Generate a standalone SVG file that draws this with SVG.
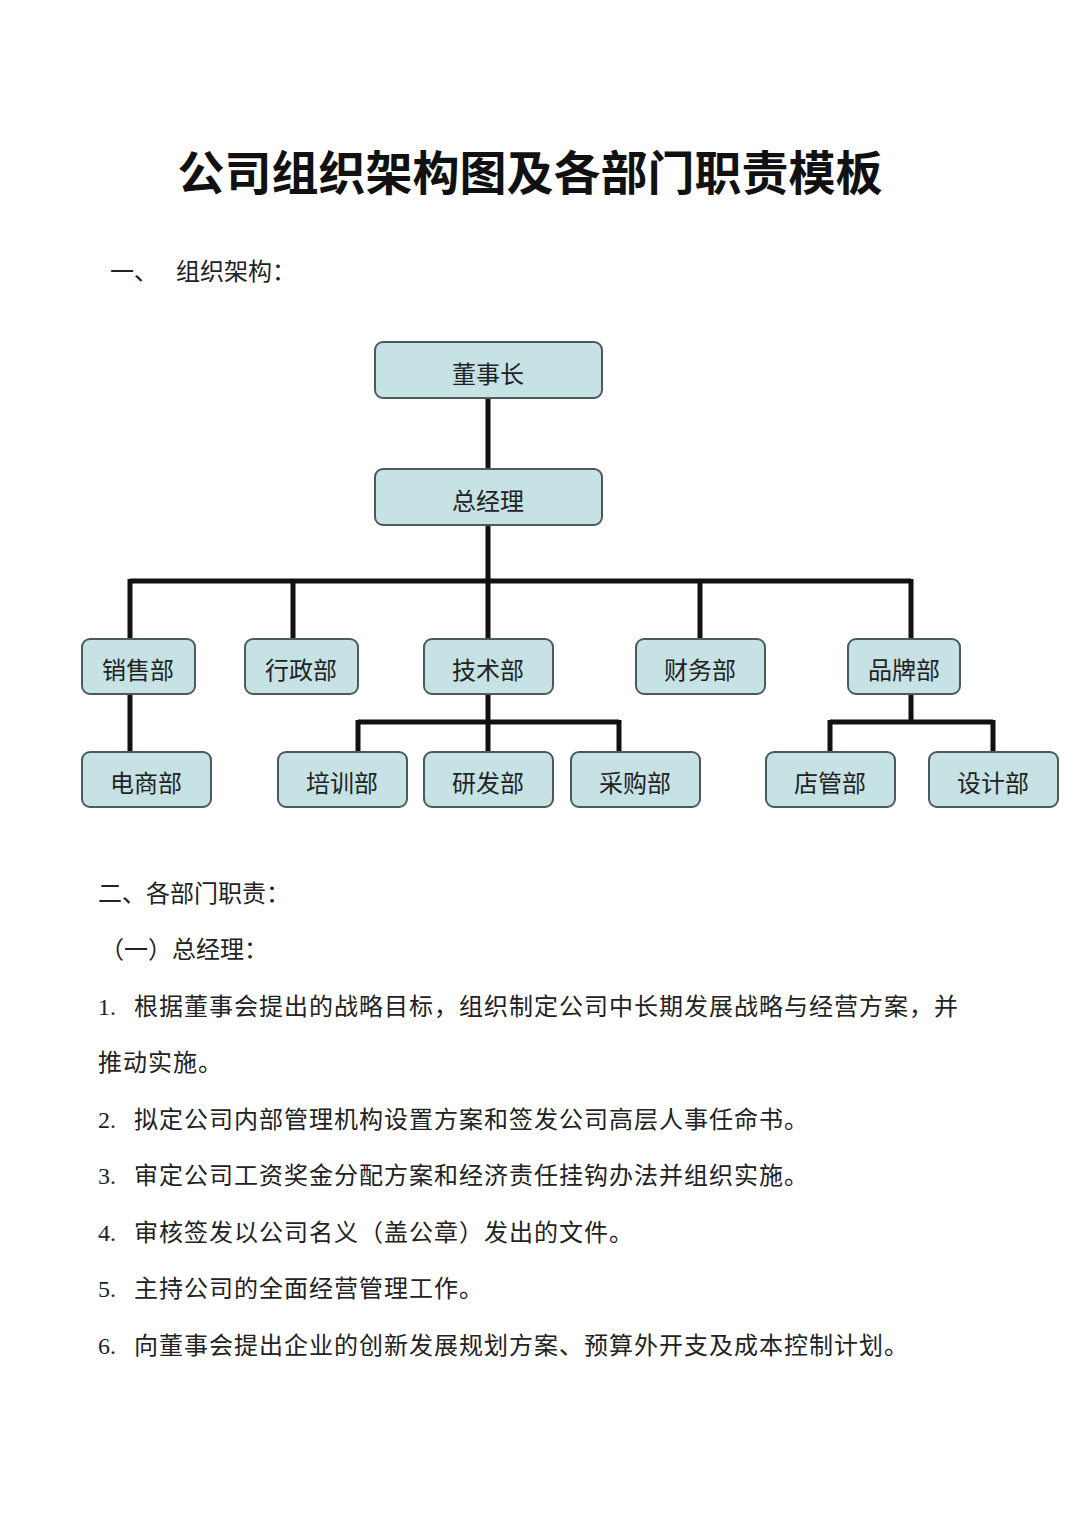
<svg xmlns="http://www.w3.org/2000/svg" width="1080" height="1522" viewBox="0 0 1080 1522">
<style>
.n{fill:#c6e2e5;stroke:#4b5a5c;stroke-width:2}
.nt{font-family:"Noto Sans CJK SC",sans-serif;font-size:24px;fill:#222;text-anchor:middle;dominant-baseline:central}
.c{stroke:#111;stroke-width:5;fill:none}
.t{font-family:"Liberation Serif","Noto Sans CJK SC",serif;font-size:24px;fill:#222}
.b{letter-spacing:1px}
</style>
<rect width="1080" height="1522" fill="#fff"/>
<text x="530" y="190" text-anchor="middle" font-family="Noto Sans CJK SC,sans-serif" font-weight="bold" font-size="47" fill="#111">公司组织架构图及各部门职责模板</text>
<text class="t" x="110" y="280">一、</text>
<text class="t" x="176" y="280">组织架构：</text>
<g id="connectors">
<path class="c" d="M488 398V469M488 525V639M130 581H911M130 579V639M293 579V639M700 579V639M911 579V639M130 694V752M488 694V752M358 722H619M358 720V752M619 720V752M911 694V722M830 722H993M830 720V752M993 720V752"/>
</g>
<g id="n1"><rect class="n" x="375" y="342" width="227" height="56" rx="8"/><text class="nt" x="488" y="372">董事长</text></g>
<g id="n2"><rect class="n" x="375" y="469" width="227" height="56" rx="8"/><text class="nt" x="488" y="499">总经理</text></g>
<g id="n3"><rect class="n" x="82" y="639" width="113" height="55" rx="8"/><text class="nt" x="138" y="668">销售部</text></g>
<g id="n4"><rect class="n" x="245" y="639" width="113" height="55" rx="8"/><text class="nt" x="301" y="668">行政部</text></g>
<g id="n5"><rect class="n" x="424" y="639" width="129" height="55" rx="8"/><text class="nt" x="488" y="668">技术部</text></g>
<g id="n6"><rect class="n" x="636" y="639" width="129" height="55" rx="8"/><text class="nt" x="700" y="668">财务部</text></g>
<g id="n7"><rect class="n" x="848" y="639" width="112" height="55" rx="8"/><text class="nt" x="904" y="668">品牌部</text></g>
<g id="n8"><rect class="n" x="82" y="752" width="129" height="55" rx="8"/><text class="nt" x="146" y="781">电商部</text></g>
<g id="n9"><rect class="n" x="278" y="752" width="129" height="55" rx="8"/><text class="nt" x="342" y="781">培训部</text></g>
<g id="n10"><rect class="n" x="424" y="752" width="129" height="55" rx="8"/><text class="nt" x="488" y="781">研发部</text></g>
<g id="n11"><rect class="n" x="571" y="752" width="129" height="55" rx="8"/><text class="nt" x="635" y="781">采购部</text></g>
<g id="n12"><rect class="n" x="766" y="752" width="129" height="55" rx="8"/><text class="nt" x="830" y="781">店管部</text></g>
<g id="n13"><rect class="n" x="929" y="752" width="129" height="55" rx="8"/><text class="nt" x="993" y="781">设计部</text></g>
<text class="t" x="98" y="902">二、各部门职责：</text>
<text class="t" x="100" y="958">（一）总经理：</text>
<text class="t" x="98" y="1015">1.</text><text class="t b" x="134" y="1015">根据董事会提出的战略目标，组织制定公司中长期发展战略与经营方案，并</text>
<text class="t b" x="98" y="1071">推动实施。</text>
<text class="t" x="98" y="1128">2.</text><text class="t b" x="134" y="1128">拟定公司内部管理机构设置方案和签发公司高层人事任命书。</text>
<text class="t" x="98" y="1184">3.</text><text class="t b" x="134" y="1184">审定公司工资奖金分配方案和经济责任挂钩办法并组织实施。</text>
<text class="t" x="98" y="1241">4.</text><text class="t b" x="134" y="1241">审核签发以公司名义（盖公章）发出的文件。</text>
<text class="t" x="98" y="1297">5.</text><text class="t b" x="134" y="1297">主持公司的全面经营管理工作。</text>
<text class="t" x="98" y="1354">6.</text><text class="t b" x="134" y="1354">向董事会提出企业的创新发展规划方案、预算外开支及成本控制计划。</text>
</svg>
